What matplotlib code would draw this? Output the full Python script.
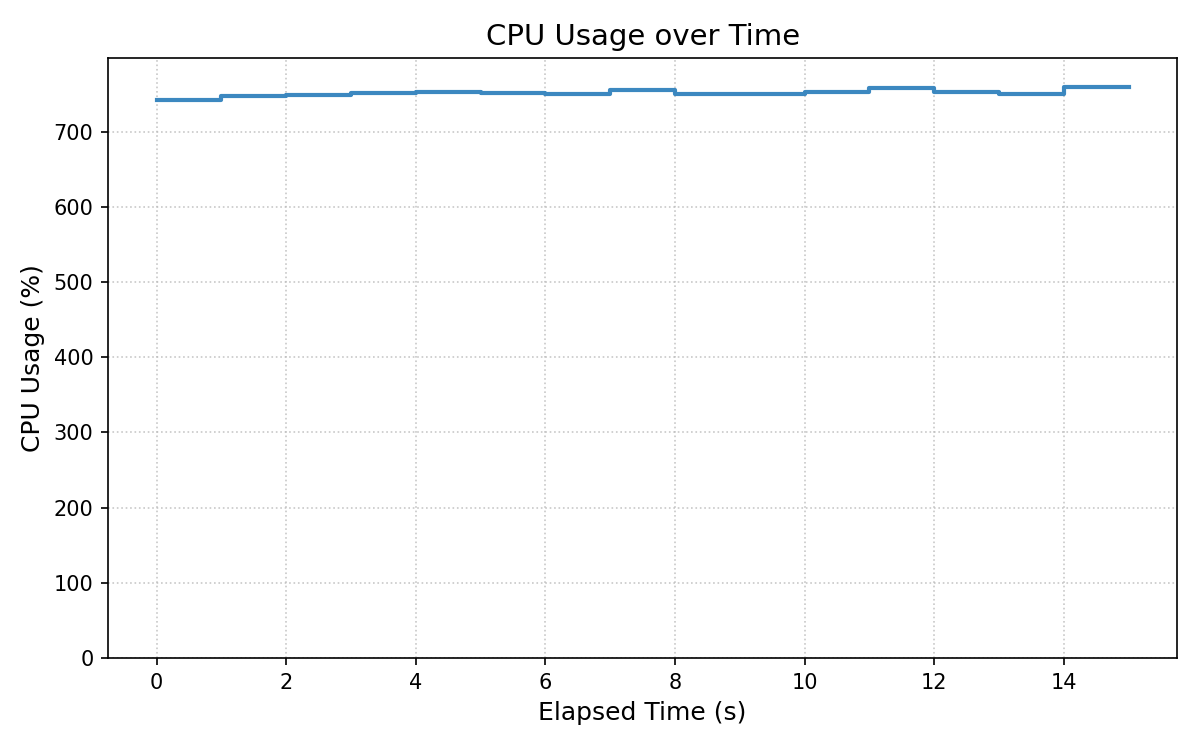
import matplotlib
matplotlib.use("Agg")
import matplotlib.pyplot as plt

elapsed = [0, 1, 2, 3, 4, 5, 6, 7, 8, 9, 10, 11, 12, 13, 14, 15]
cpu = [742.5, 747, 748.5, 751, 752.5, 751, 749.5, 755, 749.5, 749.5, 752.5, 757.5, 752.5, 749.5, 760, 760]

fig, ax = plt.subplots(figsize=(8, 5), dpi=150)
ax.step(elapsed, cpu, where="post", color="#3182bd", linewidth=2, alpha=0.95)
ax.set_ylim(0, max(cpu) * 1.05)
ax.set_title("CPU Usage over Time", fontsize=14)
ax.set_xlabel("Elapsed Time (s)", fontsize=12)
ax.set_ylabel("CPU Usage (%)", fontsize=12)
ax.tick_params(labelsize=10)
ax.grid(True, linestyle=":", color="#bbbbbb", alpha=0.8)
fig.tight_layout()
fig.subplots_adjust(left=0.09, right=0.981, top=0.9227, bottom=0.1227)
fig.savefig("out.png", dpi=150)
